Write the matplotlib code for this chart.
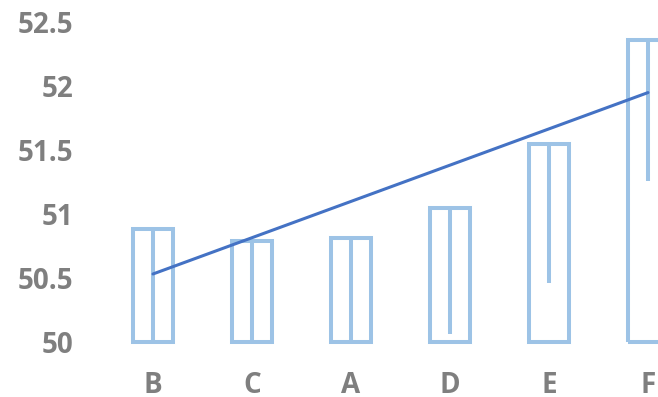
import matplotlib.pyplot as plt
import numpy as np

categories = ["B", "C", "A", "D", "E", "F"]
values = [50.88, 50.79, 50.81, 51.05, 51.55, 52.36]
lower_err = [1.0, 1.0, 1.0, 0.99, 1.09, 1.10]
y_ticks = [50, 50.5, 51, 51.5, 52, 52.5]
y_labels = ["50", "50.5", "51", "51.5", "52", "52.5"]

bar_color = "#9DC3E6"
line_color = "#4472C4"
text_color = "#7F7F7F"

fig = plt.figure(figsize=(6.58, 3.97), dpi=100)
ax = fig.add_axes([103.5 / 658, 55 / 397, (697.5 - 103.5) / 658, 320 / 397])

x = np.arange(len(categories))
vals = np.array(values)

ax.errorbar(x, vals, yerr=[lower_err, np.zeros(len(vals))], fmt="none",
            ecolor=bar_color, elinewidth=2.9, capsize=0, zorder=2)
ax.bar(x, vals - 50, bottom=50, width=0.4, facecolor="none",
       edgecolor=bar_color, linewidth=2.9, clip_on=False, zorder=3)

# linear trendline over the bar values
k, b = np.polyfit(x, vals, 1)
ax.plot([x[0], x[-1]], [k * x[0] + b, k * x[-1] + b], color=line_color,
        linewidth=2.2, solid_capstyle="round", zorder=4)

ax.set_xlim(-0.5, 5.5)
ax.set_ylim(50, 52.5)
ax.set_yticks(y_ticks)
ax.set_yticklabels(y_labels)
ax.set_xticks(x)
ax.set_xticklabels(categories)

for s in ax.spines.values():
    s.set_visible(False)
ax.tick_params(length=0, labelsize=20, labelcolor=text_color)
ax.tick_params(axis="y", pad=22)
ax.tick_params(axis="x", pad=21)
for lab in ax.get_xticklabels() + ax.get_yticklabels():
    lab.set_fontfamily("Open Sans")
    lab.set_fontweight("bold")

fig.savefig("out.png", dpi=100)
